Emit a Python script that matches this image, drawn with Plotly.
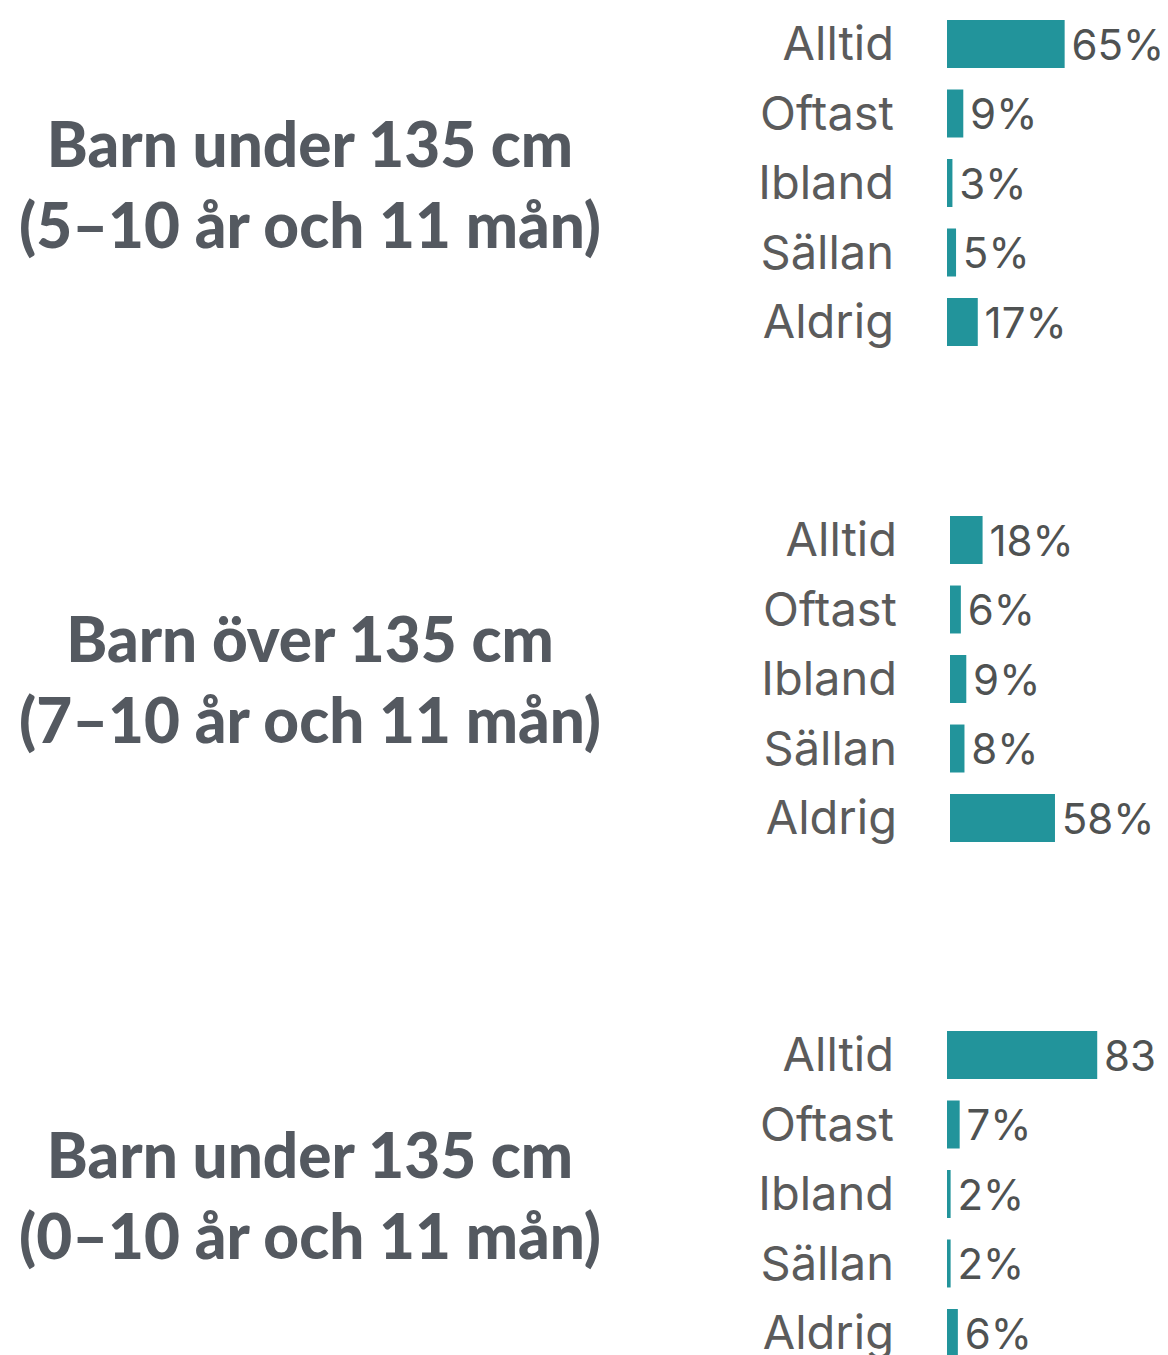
import plotly.graph_objects as go

W, H = 1168, 1355
OFF = 8  # default page body margin

categories = ["Alltid", "Oftast", "Ibland", "Sällan", "Aldrig"]
titles = [
    "Barn under 135 cm<br>(5–10 år och 11 mån)",
    "Barn över 135 cm<br>(7–10 år och 11 mån)",
    "Barn under 135 cm<br>(0–10 år och 11 mån)",
]
values_under_135_5_10 = [65, 9, 3, 5, 17]
values_over_135_7_10 = [18, 6, 9, 8, 58]
values_under_135_0_10 = [83, 7, 2, 2, 6]
series = [values_under_135_5_10, values_over_135_7_10, values_under_135_0_10]

BAR_COLOR = "#22949b"
LABEL_COLOR = "#5b5b5b"
VALUE_COLOR = "#4f5252"
TITLE_COLOR = "#545960"
LABEL_FONT = "Inter"
TITLE_FONT = "Lato"

px_per_pct = 1.81
row_step = 69.5
# pixel layout per panel (screen px): (bar start x, first row centre y, label right x)
panels = [(947, 44, 893), (950, 540, 896), (947, 1055, 893)]

fig = go.Figure()
layout = dict(
    width=W, height=H,
    margin=dict(l=0, r=0, t=0, b=0),
    paper_bgcolor="white", plot_bgcolor="white",
    showlegend=False,
    bargap=0.31,
)
annotations = []
for i, (vals, (x0s, y0s, lab_xs)) in enumerate(zip(series, panels)):
    x0, y0, lab_x = x0s - OFF, y0s - OFF, lab_xs - OFF
    n = i + 1
    xa = "x" if n == 1 else f"x{n}"
    ya = "y" if n == 1 else f"y{n}"
    fig.add_trace(go.Bar(
        x=vals, y=categories, orientation="h",
        marker=dict(color=BAR_COLOR, line=dict(width=0)),
        text=[f"\u200a{v}%" for v in vals], textposition="outside",
        textfont=dict(family=LABEL_FONT, size=42, color=VALUE_COLOR),
        constraintext="none", cliponaxis=False,
        xaxis=xa, yaxis=ya, hoverinfo="skip",
    ))
    top_px = y0 - row_step / 2
    bot_px = top_px + row_step * 5
    rng_bottom = 4.5
    if bot_px > H:
        rng_bottom = (H - top_px) / row_step - 0.5
        bot_px = H
    xdom = [x0 / W, 1.0]
    ydom = [1 - bot_px / H, 1 - top_px / H]
    layout["xaxis" if n == 1 else f"xaxis{n}"] = dict(
        domain=xdom, range=[0, (W - x0) / px_per_pct], anchor=ya,
        visible=False, fixedrange=True,
    )
    layout["yaxis" if n == 1 else f"yaxis{n}"] = dict(
        domain=ydom, range=[rng_bottom, -0.5], anchor=xa,
        type="category", categoryorder="array", categoryarray=categories,
        showgrid=False, zeroline=False, showline=False, ticks="",
        ticklabelstandoff=x0 - lab_x - 2,
        tickfont=dict(family=LABEL_FONT, size=47, color=LABEL_COLOR),
        fixedrange=True,
    )
    centre_px = (y0 + y0 + 4 * row_step) / 2
    annotations.append(dict(
        text=titles[i], xref="paper", yref="paper",
        x=(310 - OFF) / W, y=1 - centre_px / H, xanchor="center", yanchor="middle",
        showarrow=False, align="center",
        font=dict(family=TITLE_FONT, size=62, color=TITLE_COLOR, weight=900),
    ))
layout["annotations"] = annotations
fig.update_layout(**layout)
fig.write_html("out.html")
